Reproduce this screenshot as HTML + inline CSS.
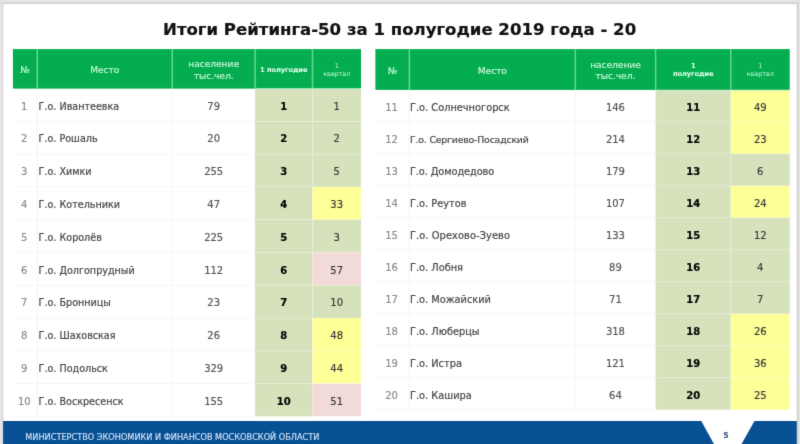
<!DOCTYPE html>
<html lang="ru"><head><meta charset="utf-8"><title>Итоги Рейтинга-50</title>
<style>
*{box-sizing:border-box;margin:0;padding:0}
html,body{width:800px;height:444px;overflow:hidden;background:#e3e3e3}
body{font-family:"DejaVu Sans","Liberation Sans",sans-serif;position:relative}
.page{position:absolute;left:-20px;top:-20px;width:840px;height:500px;background:#e5e5e5;filter:url(#bl)}
.in{position:absolute;left:20px;top:20px;width:800px;height:460px}
.bg{position:absolute;left:0;top:0}
.title{position:absolute;left:-0.4px;top:19px;width:800px;text-align:center;font-weight:bold;font-size:16.56px;line-height:22px;color:#111;white-space:nowrap;-webkit-text-stroke:0.2px}
.x{position:absolute;display:flex;align-items:center;justify-content:center;text-align:center;white-space:nowrap;font-size:9.6px;line-height:12px;letter-spacing:0;color:#555}
.r{padding-top:0;-webkit-text-stroke:0.2px}
.r.n,.r.v,.r.q,.r.b{font-size:10px;-webkit-text-stroke:0.18px}
.h{font-size:9.2px;line-height:11.2px;letter-spacing:-0.1px;color:#c6f6d8;padding-top:1.4px;-webkit-text-stroke:0.15px}
.hb{font-size:6.8px;line-height:8px;letter-spacing:-0.15px;color:#e4ffee;font-weight:bold;padding-top:1.5px}
.hs{font-size:6.5px;line-height:8px;letter-spacing:-0.1px;color:#c4f5d6;padding-top:1.5px}
.n{color:#8c8c8c;padding-right:1.6px}
.nm{justify-content:flex-start;padding-left:1.3px;color:#484848}
.nm.t2{padding-left:0.6px;font-size:9.8px}
.v{color:#555}
.b{font-weight:bold;color:#050505}
.q{color:#3a3a3a}
.ftxt{-webkit-text-stroke:0.12px;position:absolute;left:25.3px;top:424px;height:23px;line-height:27px;font-size:8.18px;color:#d6e4f6;white-space:nowrap}
.pnum{position:absolute;left:699px;width:54px;top:429.8px;text-align:center;font-size:7.8px;font-weight:bold;color:#33507c;line-height:12px}

</style></head><body>
<svg width="0" height="0" style="position:absolute"><defs><filter id="bl" x="0" y="0" width="100%" height="100%" color-interpolation-filters="sRGB"><feConvolveMatrix order="3" kernelMatrix="1 8 1 8 64 8 1 8 1" divisor="100" edgeMode="duplicate" preserveAlpha="true"/></filter></defs></svg>
<div class="page"><div class="in">
<svg class="bg" width="800" height="460" viewBox="0 0 800 460">
<rect x="0" y="0" width="800" height="460" fill="#e5e5e5"/>
<rect x="0" y="1" width="800" height="1" fill="#e2e2e2"/>
<rect x="0" y="2" width="800" height="1" fill="#dcdcdc"/>
<rect x="2" y="3" width="796" height="1" fill="#d0d0d0"/>
<rect x="2" y="3" width="1" height="460" fill="#d5d5d5"/>
<rect x="797" y="3" width="1" height="460" fill="#d1d1d1"/>
<rect x="798" y="3" width="1" height="460" fill="#dcdcdc"/>
<rect x="3" y="4" width="794" height="460" fill="#ffffff"/>
<rect x="3" y="4" width="1" height="460" fill="#f3f3f3"/>
<rect x="796" y="4" width="1" height="460" fill="#f1f1f1"/>
<rect x="12.9" y="49.1" width="348.1" height="39.5" fill="#04ad4f"/>
<rect x="36.55" y="49.1" width="1.5" height="39.5" fill="#66d793"/>
<rect x="171.5" y="49.1" width="1.5" height="39.5" fill="#66d793"/>
<rect x="254.35" y="49.1" width="1.5" height="39.5" fill="#66d793"/>
<rect x="311.7" y="49.1" width="1.5" height="39.5" fill="#66d793"/>
<rect x="255.1" y="88.6" width="57.35" height="32.77" fill="#d6e2bc"/>
<rect x="312.45" y="88.6" width="48.55" height="32.77" fill="#d6e2bc"/>
<rect x="255.1" y="121.37" width="57.35" height="32.77" fill="#d6e2bc"/>
<rect x="312.45" y="121.37" width="48.55" height="32.77" fill="#d6e2bc"/>
<rect x="255.1" y="154.14" width="57.35" height="32.77" fill="#d6e2bc"/>
<rect x="312.45" y="154.14" width="48.55" height="32.77" fill="#d6e2bc"/>
<rect x="255.1" y="186.91" width="57.35" height="32.77" fill="#d6e2bc"/>
<rect x="312.45" y="186.91" width="48.55" height="32.77" fill="#fdff97"/>
<rect x="255.1" y="219.68" width="57.35" height="32.77" fill="#d6e2bc"/>
<rect x="312.45" y="219.68" width="48.55" height="32.77" fill="#d6e2bc"/>
<rect x="255.1" y="252.45" width="57.35" height="32.77" fill="#d6e2bc"/>
<rect x="312.45" y="252.45" width="48.55" height="32.77" fill="#f1dad7"/>
<rect x="255.1" y="285.22" width="57.35" height="32.77" fill="#d6e2bc"/>
<rect x="312.45" y="285.22" width="48.55" height="32.77" fill="#d6e2bc"/>
<rect x="255.1" y="317.99" width="57.35" height="32.77" fill="#d6e2bc"/>
<rect x="312.45" y="317.99" width="48.55" height="32.77" fill="#fdff97"/>
<rect x="255.1" y="350.76" width="57.35" height="32.77" fill="#d6e2bc"/>
<rect x="312.45" y="350.76" width="48.55" height="32.77" fill="#fdff97"/>
<rect x="255.1" y="383.53" width="57.35" height="32.77" fill="#d6e2bc"/>
<rect x="312.45" y="383.53" width="48.55" height="32.77" fill="#f1dad7"/>
<rect x="255.1" y="88.6" width="105.9" height="1.2" fill="#c4f0cf" opacity="0.75"/>
<rect x="12.9" y="120.87" width="242.2" height="1" fill="#f6f6f6"/>
<rect x="255.1" y="120.87" width="105.9" height="1" fill="#ffffff" opacity="0.22"/>
<rect x="12.9" y="153.64" width="242.2" height="1" fill="#f6f6f6"/>
<rect x="255.1" y="153.64" width="105.9" height="1" fill="#ffffff" opacity="0.22"/>
<rect x="12.9" y="186.41" width="242.2" height="1" fill="#f6f6f6"/>
<rect x="255.1" y="186.41" width="105.9" height="1" fill="#ffffff" opacity="0.22"/>
<rect x="12.9" y="219.18" width="242.2" height="1" fill="#f6f6f6"/>
<rect x="255.1" y="219.18" width="105.9" height="1" fill="#ffffff" opacity="0.22"/>
<rect x="12.9" y="251.95" width="242.2" height="1" fill="#f6f6f6"/>
<rect x="255.1" y="251.95" width="105.9" height="1" fill="#ffffff" opacity="0.22"/>
<rect x="12.9" y="284.72" width="242.2" height="1" fill="#f6f6f6"/>
<rect x="255.1" y="284.72" width="105.9" height="1" fill="#ffffff" opacity="0.22"/>
<rect x="12.9" y="317.49" width="242.2" height="1" fill="#f6f6f6"/>
<rect x="255.1" y="317.49" width="105.9" height="1" fill="#ffffff" opacity="0.22"/>
<rect x="12.9" y="350.26" width="242.2" height="1" fill="#f6f6f6"/>
<rect x="255.1" y="350.26" width="105.9" height="1" fill="#ffffff" opacity="0.22"/>
<rect x="12.9" y="383.03" width="242.2" height="1" fill="#f6f6f6"/>
<rect x="255.1" y="383.03" width="105.9" height="1" fill="#ffffff" opacity="0.22"/>
<rect x="12.9" y="415.8" width="242.2" height="1" fill="#f6f6f6"/>
<rect x="36.8" y="88.6" width="1" height="327.7" fill="#f6f6f6"/>
<rect x="171.75" y="88.6" width="1" height="327.7" fill="#f6f6f6"/>
<rect x="311.95" y="88.6" width="1" height="327.7" fill="#ffffff" opacity="0.22"/>
<rect x="375.4" y="49.1" width="414.3" height="40.8" fill="#04ad4f"/>
<rect x="408.65" y="49.1" width="1.5" height="40.8" fill="#66d793"/>
<rect x="574.55" y="49.1" width="1.5" height="40.8" fill="#66d793"/>
<rect x="654.85" y="49.1" width="1.5" height="40.8" fill="#66d793"/>
<rect x="730.05" y="49.1" width="1.5" height="40.8" fill="#66d793"/>
<rect x="655.6" y="89.9" width="75.2" height="31.98" fill="#d6e2bc"/>
<rect x="730.8" y="89.9" width="58.9" height="31.98" fill="#fdff97"/>
<rect x="655.6" y="121.88" width="75.2" height="31.98" fill="#d6e2bc"/>
<rect x="730.8" y="121.88" width="58.9" height="31.98" fill="#fdff97"/>
<rect x="655.6" y="153.86" width="75.2" height="31.98" fill="#d6e2bc"/>
<rect x="730.8" y="153.86" width="58.9" height="31.98" fill="#d6e2bc"/>
<rect x="655.6" y="185.84" width="75.2" height="31.98" fill="#d6e2bc"/>
<rect x="730.8" y="185.84" width="58.9" height="31.98" fill="#fdff97"/>
<rect x="655.6" y="217.82" width="75.2" height="31.98" fill="#d6e2bc"/>
<rect x="730.8" y="217.82" width="58.9" height="31.98" fill="#d6e2bc"/>
<rect x="655.6" y="249.8" width="75.2" height="31.98" fill="#d6e2bc"/>
<rect x="730.8" y="249.8" width="58.9" height="31.98" fill="#d6e2bc"/>
<rect x="655.6" y="281.78" width="75.2" height="31.98" fill="#d6e2bc"/>
<rect x="730.8" y="281.78" width="58.9" height="31.98" fill="#d6e2bc"/>
<rect x="655.6" y="313.76" width="75.2" height="31.98" fill="#d6e2bc"/>
<rect x="730.8" y="313.76" width="58.9" height="31.98" fill="#fdff97"/>
<rect x="655.6" y="345.74" width="75.2" height="31.98" fill="#d6e2bc"/>
<rect x="730.8" y="345.74" width="58.9" height="31.98" fill="#fdff97"/>
<rect x="655.6" y="377.72" width="75.2" height="31.98" fill="#d6e2bc"/>
<rect x="730.8" y="377.72" width="58.9" height="31.98" fill="#fdff97"/>
<rect x="655.6" y="89.9" width="134.1" height="1.2" fill="#c4f0cf" opacity="0.75"/>
<rect x="375.4" y="121.38" width="280.2" height="1" fill="#f6f6f6"/>
<rect x="655.6" y="121.38" width="134.1" height="1" fill="#ffffff" opacity="0.22"/>
<rect x="375.4" y="153.36" width="280.2" height="1" fill="#f6f6f6"/>
<rect x="655.6" y="153.36" width="134.1" height="1" fill="#ffffff" opacity="0.22"/>
<rect x="375.4" y="185.34" width="280.2" height="1" fill="#f6f6f6"/>
<rect x="655.6" y="185.34" width="134.1" height="1" fill="#ffffff" opacity="0.22"/>
<rect x="375.4" y="217.32" width="280.2" height="1" fill="#f6f6f6"/>
<rect x="655.6" y="217.32" width="134.1" height="1" fill="#ffffff" opacity="0.22"/>
<rect x="375.4" y="249.3" width="280.2" height="1" fill="#f6f6f6"/>
<rect x="655.6" y="249.3" width="134.1" height="1" fill="#ffffff" opacity="0.22"/>
<rect x="375.4" y="281.28" width="280.2" height="1" fill="#f6f6f6"/>
<rect x="655.6" y="281.28" width="134.1" height="1" fill="#ffffff" opacity="0.22"/>
<rect x="375.4" y="313.26" width="280.2" height="1" fill="#f6f6f6"/>
<rect x="655.6" y="313.26" width="134.1" height="1" fill="#ffffff" opacity="0.22"/>
<rect x="375.4" y="345.24" width="280.2" height="1" fill="#f6f6f6"/>
<rect x="655.6" y="345.24" width="134.1" height="1" fill="#ffffff" opacity="0.22"/>
<rect x="375.4" y="377.22" width="280.2" height="1" fill="#f6f6f6"/>
<rect x="655.6" y="377.22" width="134.1" height="1" fill="#ffffff" opacity="0.22"/>
<rect x="375.4" y="409.2" width="280.2" height="1" fill="#f6f6f6"/>
<rect x="408.9" y="89.9" width="1" height="319.8" fill="#f6f6f6"/>
<rect x="574.8" y="89.9" width="1" height="319.8" fill="#f6f6f6"/>
<rect x="730.3" y="89.9" width="1" height="319.8" fill="#ffffff" opacity="0.22"/>
<rect x="3.1" y="421" width="793.7" height="40" fill="#075094"/>
<polygon points="701,420.5 754.8,420.5 732.3,460.5 723,460.5" fill="#ffffff"/>
</svg>
<div class="title">Итоги Рейтинга-50 за 1 полугодие 2019 года - 20</div>
<div class="x h" style="left:12.9px;top:49.1px;width:24.4px;height:39.5px">№</div>
<div class="x h" style="left:37.3px;top:49.1px;width:134.95px;height:39.5px">Место</div>
<div class="x h" style="left:172.25px;top:49.1px;width:82.85px;height:39.5px">население<br>тыс.чел.</div>
<div class="x hb" style="left:255.1px;top:49.1px;width:57.35px;height:39.5px">1 полугодие</div>
<div class="x hs" style="left:312.45px;top:49.1px;width:48.55px;height:39.5px">1<br>квартал</div>
<div class="x r n" style="left:12.9px;top:101px;width:24.4px;height:12px">1</div>
<div class="x r nm t1" style="left:37.3px;top:101px;width:134.95px;height:12px">Г.о. Ивантеевка</div>
<div class="x r v" style="left:172.25px;top:101px;width:82.85px;height:12px">79</div>
<div class="x r b" style="left:255.1px;top:101px;width:57.35px;height:12px">1</div>
<div class="x r q" style="left:312.45px;top:101px;width:48.55px;height:12px">1</div>
<div class="x r n" style="left:12.9px;top:133px;width:24.4px;height:12px">2</div>
<div class="x r nm t1" style="left:37.3px;top:133px;width:134.95px;height:12px">Г.о. Рошаль</div>
<div class="x r v" style="left:172.25px;top:133px;width:82.85px;height:12px">20</div>
<div class="x r b" style="left:255.1px;top:133px;width:57.35px;height:12px">2</div>
<div class="x r q" style="left:312.45px;top:133px;width:48.55px;height:12px">2</div>
<div class="x r n" style="left:12.9px;top:166px;width:24.4px;height:12px">3</div>
<div class="x r nm t1" style="left:37.3px;top:166px;width:134.95px;height:12px">Г.о. Химки</div>
<div class="x r v" style="left:172.25px;top:166px;width:82.85px;height:12px">255</div>
<div class="x r b" style="left:255.1px;top:166px;width:57.35px;height:12px">3</div>
<div class="x r q" style="left:312.45px;top:166px;width:48.55px;height:12px">5</div>
<div class="x r n" style="left:12.9px;top:199px;width:24.4px;height:12px">4</div>
<div class="x r nm t1" style="left:37.3px;top:199px;width:134.95px;height:12px">Г.о. Котельники</div>
<div class="x r v" style="left:172.25px;top:199px;width:82.85px;height:12px">47</div>
<div class="x r b" style="left:255.1px;top:199px;width:57.35px;height:12px">4</div>
<div class="x r q" style="left:312.45px;top:199px;width:48.55px;height:12px">33</div>
<div class="x r n" style="left:12.9px;top:232px;width:24.4px;height:12px">5</div>
<div class="x r nm t1" style="left:37.3px;top:232px;width:134.95px;height:12px">Г.о. Королёв</div>
<div class="x r v" style="left:172.25px;top:232px;width:82.85px;height:12px">225</div>
<div class="x r b" style="left:255.1px;top:232px;width:57.35px;height:12px">5</div>
<div class="x r q" style="left:312.45px;top:232px;width:48.55px;height:12px">3</div>
<div class="x r n" style="left:12.9px;top:265px;width:24.4px;height:12px">6</div>
<div class="x r nm t1" style="left:37.3px;top:265px;width:134.95px;height:12px">Г.о. Долгопрудный</div>
<div class="x r v" style="left:172.25px;top:265px;width:82.85px;height:12px">112</div>
<div class="x r b" style="left:255.1px;top:265px;width:57.35px;height:12px">6</div>
<div class="x r q" style="left:312.45px;top:265px;width:48.55px;height:12px">57</div>
<div class="x r n" style="left:12.9px;top:297px;width:24.4px;height:12px">7</div>
<div class="x r nm t1" style="left:37.3px;top:297px;width:134.95px;height:12px">Г.о. Бронницы</div>
<div class="x r v" style="left:172.25px;top:297px;width:82.85px;height:12px">23</div>
<div class="x r b" style="left:255.1px;top:297px;width:57.35px;height:12px">7</div>
<div class="x r q" style="left:312.45px;top:297px;width:48.55px;height:12px">10</div>
<div class="x r n" style="left:12.9px;top:330px;width:24.4px;height:12px">8</div>
<div class="x r nm t1" style="left:37.3px;top:330px;width:134.95px;height:12px">Г.о. Шаховская</div>
<div class="x r v" style="left:172.25px;top:330px;width:82.85px;height:12px">26</div>
<div class="x r b" style="left:255.1px;top:330px;width:57.35px;height:12px">8</div>
<div class="x r q" style="left:312.45px;top:330px;width:48.55px;height:12px">48</div>
<div class="x r n" style="left:12.9px;top:363px;width:24.4px;height:12px">9</div>
<div class="x r nm t1" style="left:37.3px;top:363px;width:134.95px;height:12px">Г.о. Подольск</div>
<div class="x r v" style="left:172.25px;top:363px;width:82.85px;height:12px">329</div>
<div class="x r b" style="left:255.1px;top:363px;width:57.35px;height:12px">9</div>
<div class="x r q" style="left:312.45px;top:363px;width:48.55px;height:12px">44</div>
<div class="x r n" style="left:12.9px;top:396px;width:24.4px;height:12px">10</div>
<div class="x r nm t1" style="left:37.3px;top:396px;width:134.95px;height:12px">Г.о. Воскресенск</div>
<div class="x r v" style="left:172.25px;top:396px;width:82.85px;height:12px">155</div>
<div class="x r b" style="left:255.1px;top:396px;width:57.35px;height:12px">10</div>
<div class="x r q" style="left:312.45px;top:396px;width:48.55px;height:12px">51</div>
<div class="x h" style="left:375.4px;top:49.1px;width:34px;height:40.8px">№</div>
<div class="x h" style="left:409.4px;top:49.1px;width:165.9px;height:40.8px">Место</div>
<div class="x h" style="left:575.3px;top:49.1px;width:80.3px;height:40.8px">население<br>тыс.чел.</div>
<div class="x hb" style="left:655.6px;top:49.1px;width:75.2px;height:40.8px">1<br>полугодие</div>
<div class="x hs" style="left:730.8px;top:49.1px;width:58.9px;height:40.8px">1<br>квартал</div>
<div class="x r n" style="left:375.4px;top:102px;width:34px;height:12px">11</div>
<div class="x r nm t2" style="left:409.4px;top:102px;width:165.9px;height:12px">Г.о. Солнечногорск</div>
<div class="x r v" style="left:575.3px;top:102px;width:80.3px;height:12px">146</div>
<div class="x r b" style="left:655.6px;top:102px;width:75.2px;height:12px">11</div>
<div class="x r q" style="left:730.8px;top:102px;width:58.9px;height:12px">49</div>
<div class="x r n" style="left:375.4px;top:134px;width:34px;height:12px">12</div>
<div class="x r nm t2" style="left:409.4px;top:134px;width:165.9px;height:12px"><span style="font-size:9.4px;letter-spacing:-0.2px">Г.о. Сергиево-Посадский</span></div>
<div class="x r v" style="left:575.3px;top:134px;width:80.3px;height:12px">214</div>
<div class="x r b" style="left:655.6px;top:134px;width:75.2px;height:12px">12</div>
<div class="x r q" style="left:730.8px;top:134px;width:58.9px;height:12px">23</div>
<div class="x r n" style="left:375.4px;top:166px;width:34px;height:12px">13</div>
<div class="x r nm t2" style="left:409.4px;top:166px;width:165.9px;height:12px"><span style="letter-spacing:-0.1px">Г.о. Домодедово</span></div>
<div class="x r v" style="left:575.3px;top:166px;width:80.3px;height:12px">179</div>
<div class="x r b" style="left:655.6px;top:166px;width:75.2px;height:12px">13</div>
<div class="x r q" style="left:730.8px;top:166px;width:58.9px;height:12px">6</div>
<div class="x r n" style="left:375.4px;top:198px;width:34px;height:12px">14</div>
<div class="x r nm t2" style="left:409.4px;top:198px;width:165.9px;height:12px">Г.о. Реутов</div>
<div class="x r v" style="left:575.3px;top:198px;width:80.3px;height:12px">107</div>
<div class="x r b" style="left:655.6px;top:198px;width:75.2px;height:12px">14</div>
<div class="x r q" style="left:730.8px;top:198px;width:58.9px;height:12px">24</div>
<div class="x r n" style="left:375.4px;top:230px;width:34px;height:12px">15</div>
<div class="x r nm t2" style="left:409.4px;top:230px;width:165.9px;height:12px"><span style="letter-spacing:0.1px">Г.о. Орехово-Зуево</span></div>
<div class="x r v" style="left:575.3px;top:230px;width:80.3px;height:12px">133</div>
<div class="x r b" style="left:655.6px;top:230px;width:75.2px;height:12px">15</div>
<div class="x r q" style="left:730.8px;top:230px;width:58.9px;height:12px">12</div>
<div class="x r n" style="left:375.4px;top:262px;width:34px;height:12px">16</div>
<div class="x r nm t2" style="left:409.4px;top:262px;width:165.9px;height:12px">Г.о. Лобня</div>
<div class="x r v" style="left:575.3px;top:262px;width:80.3px;height:12px">89</div>
<div class="x r b" style="left:655.6px;top:262px;width:75.2px;height:12px">16</div>
<div class="x r q" style="left:730.8px;top:262px;width:58.9px;height:12px">4</div>
<div class="x r n" style="left:375.4px;top:294px;width:34px;height:12px">17</div>
<div class="x r nm t2" style="left:409.4px;top:294px;width:165.9px;height:12px">Г.о. Можайский</div>
<div class="x r v" style="left:575.3px;top:294px;width:80.3px;height:12px">71</div>
<div class="x r b" style="left:655.6px;top:294px;width:75.2px;height:12px">17</div>
<div class="x r q" style="left:730.8px;top:294px;width:58.9px;height:12px">7</div>
<div class="x r n" style="left:375.4px;top:326px;width:34px;height:12px">18</div>
<div class="x r nm t2" style="left:409.4px;top:326px;width:165.9px;height:12px">Г.о. Люберцы</div>
<div class="x r v" style="left:575.3px;top:326px;width:80.3px;height:12px">318</div>
<div class="x r b" style="left:655.6px;top:326px;width:75.2px;height:12px">18</div>
<div class="x r q" style="left:730.8px;top:326px;width:58.9px;height:12px">26</div>
<div class="x r n" style="left:375.4px;top:358px;width:34px;height:12px">19</div>
<div class="x r nm t2" style="left:409.4px;top:358px;width:165.9px;height:12px">Г.о. Истра</div>
<div class="x r v" style="left:575.3px;top:358px;width:80.3px;height:12px">121</div>
<div class="x r b" style="left:655.6px;top:358px;width:75.2px;height:12px">19</div>
<div class="x r q" style="left:730.8px;top:358px;width:58.9px;height:12px">36</div>
<div class="x r n" style="left:375.4px;top:390px;width:34px;height:12px">20</div>
<div class="x r nm t2" style="left:409.4px;top:390px;width:165.9px;height:12px">Г.о. Кашира</div>
<div class="x r v" style="left:575.3px;top:390px;width:80.3px;height:12px">64</div>
<div class="x r b" style="left:655.6px;top:390px;width:75.2px;height:12px">20</div>
<div class="x r q" style="left:730.8px;top:390px;width:58.9px;height:12px">25</div>
<div class="ftxt">МИНИСТЕРСТВО ЭКОНОМИКИ И ФИНАНСОВ МОСКОВСКОЙ ОБЛАСТИ</div>
<div class="pnum">5</div>
</div></div>
</body></html>
